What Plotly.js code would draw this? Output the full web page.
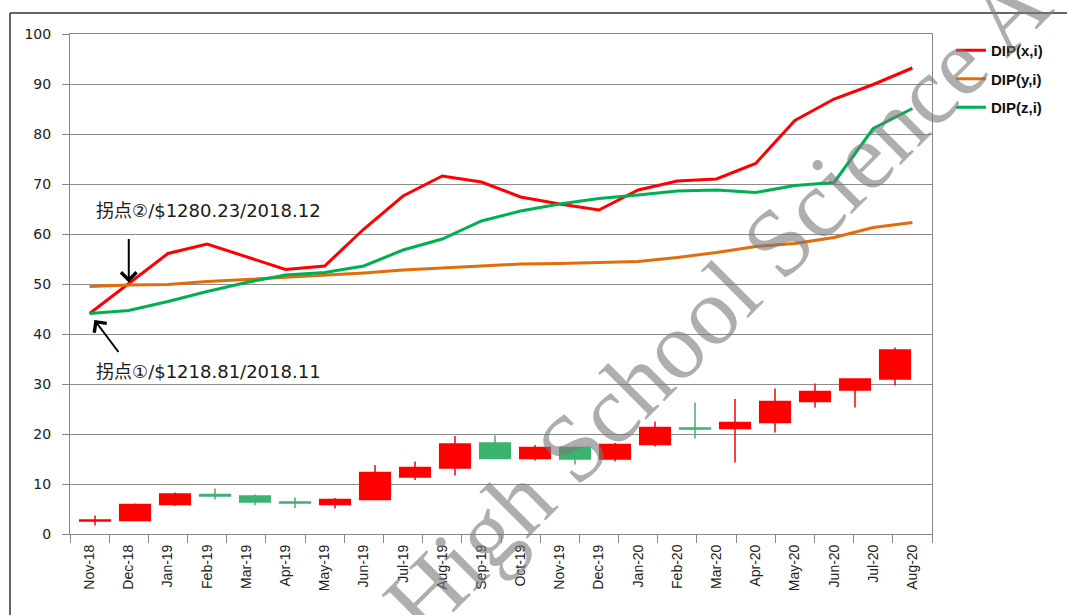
<!DOCTYPE html>
<html>
<head>
<meta charset="utf-8">
<script src="https://cdn.plot.ly/plotly-3.0.1.min.js"></script>
<style>
  html, body { margin: 0; padding: 0; background: #ffffff; }
  #chart { width: 1067px; height: 615px; }
</style>
</head>
<body>
<div id="chart"></div>
<script>
// ---- data ----
const months = ['Nov-18','Dec-18','Jan-19','Feb-19','Mar-19','Apr-19','May-19','Jun-19','Jul-19','Aug-19','Sep-19','Oct-19','Nov-19','Dec-19','Jan-20','Feb-20','Mar-20','Apr-20','May-20','Jun-20','Jul-20','Aug-20'];
const dipX = [44.1, 50.1, 56.1, 58.0, 55.5, 52.9, 53.6, 61.0, 67.6, 71.6, 70.4, 67.4, 66.0, 64.8, 68.8, 70.6, 71.0, 74.1, 82.7, 87.0, 89.9, 93.2];
const dipY = [49.5, 49.8, 49.9, 50.5, 50.9, 51.3, 51.8, 52.2, 52.8, 53.2, 53.7, 54.0, 54.1, 54.3, 54.5, 55.3, 56.3, 57.5, 58.1, 59.3, 61.3, 62.3];
const dipZ = [44.1, 44.7, 46.5, 48.5, 50.3, 51.8, 52.3, 53.6, 56.8, 59.0, 62.6, 64.6, 66.0, 67.1, 67.8, 68.6, 68.8, 68.3, 69.7, 70.3, 81.1, 85.1];

const candleMonths = months.slice(0, 21);
const candleOpen  = [2.6, 2.7, 5.9, 7.9, 7.6, 6.4, 5.9, 6.9, 11.4, 13.2, 18.2, 15.1, 17.3, 15.0, 17.9, 21.2, 21.1, 22.3, 26.5, 28.8, 31.0];
const candleClose = [2.8, 5.9, 8.0, 7.6, 6.4, 6.2, 6.9, 12.3, 13.3, 18.0, 15.1, 17.3, 15.0, 17.9, 21.3, 21.0, 22.3, 26.5, 28.5, 31.0, 36.8];
const candleHigh  = [3.7, 6.1, 8.3, 9.1, 7.9, 7.3, 7.2, 13.8, 14.5, 19.6, 19.7, 17.8, 17.5, 18.2, 22.5, 26.3, 27.0, 29.1, 30.1, 31.1, 37.3];
const candleLow   = [1.7, 2.7, 5.6, 6.9, 5.8, 5.2, 5.1, 6.9, 10.8, 11.7, 15.1, 14.7, 13.9, 14.5, 17.5, 19.1, 14.3, 20.3, 25.3, 25.3, 29.7];

const seriesNames = ['DIP(x,i)', 'DIP(y,i)', 'DIP(z,i)'];
const note1 = '拐点①/$1218.81/2018.11';
const note2 = '拐点②/$1280.23/2018.12';
const watermark = 'High School Science A';

// ---- traces ----
const candle = {
  type: 'candlestick',
  x: candleMonths, open: candleOpen, high: candleHigh, low: candleLow, close: candleClose,
  xaxis: 'x2', yaxis: 'y',
  increasing: { line: { color: '#FF0000', width: 1.5 }, fillcolor: '#FF0000' },
  decreasing: { line: { color: '#3CB371', width: 1.5 }, fillcolor: '#3CB371' },
  whiskerwidth: 0,
  showlegend: false,
  hoverinfo: 'skip'
};
const lineColors = ['#FF0000', '#E46C0A', '#00B050'];
const lineData = [dipX, dipY, dipZ];
const lines = lineData.map((vals, i) => ({
  type: 'scatter', mode: 'lines',
  x: months, y: vals, name: seriesNames[i],
  legendgroup: 'g' + i,
  line: { color: lineColors[i], width: 3 },
  xaxis: 'x', yaxis: 'y'
}));

const noteFont = { family: 'DejaVu Sans, Noto Sans CJK SC, sans-serif', size: 18, color: '#1a1a1a' };

const layout = {
  width: 1067, height: 615,
  margin: { l: 70, r: 135, t: 34, b: 81 },
  paper_bgcolor: '#ffffff', plot_bgcolor: '#ffffff',
  showlegend: true,
  boxgap: 0.15, boxgroupgap: 0.1,
  legend: {
    x: 1.022, xanchor: 'left', y: 1.0, yanchor: 'top',
    font: { family: 'Liberation Sans, Arial, sans-serif', size: 15, color: '#111', weight: 'bold' },
    tracegroupgap: 6, bgcolor: 'rgba(0,0,0,0)'
  },
  xaxis: {
    type: 'category', categoryorder: 'array', categoryarray: months,
    range: [-0.5, 21.5],
    tickson: 'boundaries', ticks: 'outside', ticklen: 8, tickcolor: '#888',
    tickangle: -90, ticklabelstandoff: 4,
    tickfont: { family: 'Liberation Sans Narrow, Liberation Sans, Arial, sans-serif', size: 14, color: '#222' },
    showline: true, linecolor: '#888', linewidth: 1, mirror: true,
    showgrid: false, zeroline: false, fixedrange: true
  },
  xaxis2: {
    type: 'category', categoryorder: 'array', categoryarray: candleMonths,
    overlaying: 'x', anchor: 'y', visible: false,
    range: [-0.625, 20.925],
    rangeslider: { visible: false }, fixedrange: true
  },
  yaxis: {
    range: [0, 100], dtick: 10, tick0: 0,
    ticks: 'outside', ticklen: 7, tickcolor: '#888', ticklabelstandoff: 8,
    tickfont: { family: 'DejaVu Sans, Verdana, sans-serif', size: 14, color: '#222' },
    showgrid: true, gridcolor: '#8c8c8c', gridwidth: 1,
    showline: true, linecolor: '#888', linewidth: 1, mirror: true,
    zeroline: false, fixedrange: true
  },
  annotations: [
    { xref: 'paper', yref: 'paper', x: (94 - 70) / 862, y: (534 - 210.7) / 500,
      xanchor: 'left', yanchor: 'middle', showarrow: false, text: note2, font: noteFont },
    { xref: 'paper', yref: 'paper', x: (94 - 70) / 862, y: (534 - 371.7) / 500,
      xanchor: 'left', yanchor: 'middle', showarrow: false, text: note1, font: noteFont },
    { xref: 'x', yref: 'y', x: months[1], y: dipX[1], text: '', showarrow: true,
      ax: 0, ay: -46, arrowhead: 4, arrowsize: 1.5, arrowwidth: 2, arrowcolor: '#000', standoff: 1 },
    { xref: 'x', yref: 'y', x: months[0], y: dipZ[0], text: '', showarrow: true,
      ax: 30, ay: 40, arrowhead: 4, arrowsize: 1.5, arrowwidth: 2, arrowcolor: '#000', standoff: 8 },
    { xref: 'paper', yref: 'paper', x: (716 - 70) / 862, y: (534 - 303) / 500,
      xanchor: 'center', yanchor: 'middle', showarrow: false, text: watermark,
      textangle: -45,
      font: { family: 'Liberation Serif, Times New Roman, serif', size: 96, color: 'rgba(120,120,120,0.6)' } }
  ],
  shapes: [
    { type: 'line', xref: 'paper', yref: 'paper', x0: (10 - 70) / 862, x1: (1070 - 70) / 862,
      y0: (534 - 13) / 500, y1: (534 - 13) / 500, line: { color: '#333', width: 1.5 } },
    { type: 'line', xref: 'paper', yref: 'paper', x0: (10 - 70) / 862, x1: (10 - 70) / 862,
      y0: (534 - 13) / 500, y1: (534 - 620) / 500, line: { color: '#333', width: 1.5 } }
  ]
};

Plotly.newPlot('chart', [candle].concat(lines), layout, { displayModeBar: false, staticPlot: true });
</script>
</body>
</html>
